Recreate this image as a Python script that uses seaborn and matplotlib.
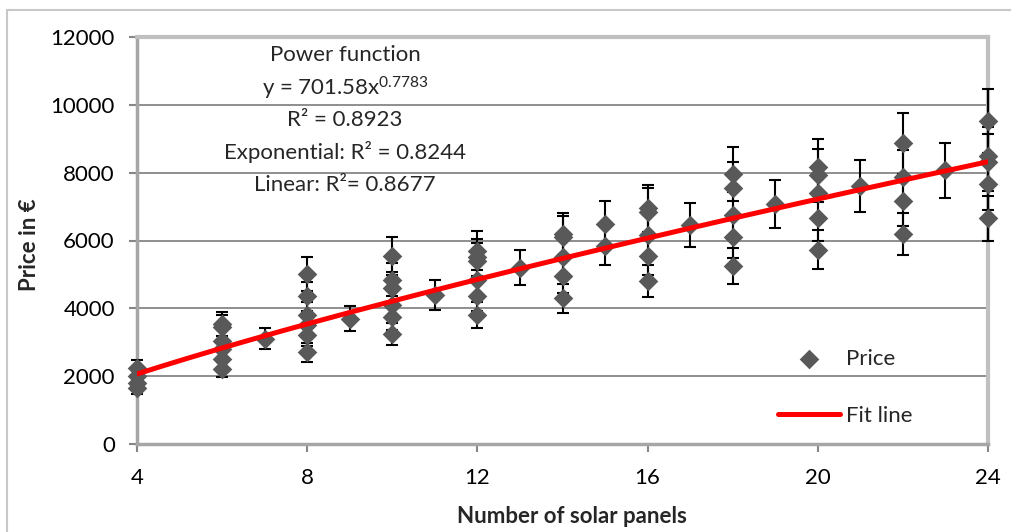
import numpy as np
import matplotlib
matplotlib.use("Agg")
import matplotlib.pyplot as plt
from matplotlib.patches import Rectangle
import seaborn as sns

# ---- data ----
panels = [4, 4, 4, 4,
          6, 6, 6, 6, 6, 6,
          7,
          8, 8, 8, 8, 8, 8,
          9,
          10, 10, 10, 10, 10, 10,
          11,
          12, 12, 12, 12, 12, 12,
          13,
          14, 14, 14, 14, 14,
          15, 15,
          16, 16, 16, 16, 16,
          17,
          18, 18, 18, 18, 18,
          19,
          20, 20, 20, 20, 20,
          21,
          22, 22, 22, 22,
          23,
          24, 24, 24, 24, 24]
price = [2250, 2000, 1800, 1650,
         3550, 3450, 3050, 2800, 2500, 2200,
         3100,
         5000, 4350, 3800, 3500, 3200, 2700,
         3700,
         5550, 4850, 4600, 4100, 3750, 3250,
         4400,
         5700, 5500, 5400, 4850, 4350, 3800,
         5200,
         6200, 6100, 5500, 4950, 4300,
         6500, 5850,
         6950, 6850, 6150, 5550, 4800,
         6450,
         7970, 7550, 6750, 6100, 5250,
         7080,
         8180, 7920, 7400, 6650, 5730,
         7610,
         8860, 7880, 7150, 6190,
         8075,
         9520, 8500, 8300, 7680, 6650]
error_pct = 0.10
power_coef = 701.58
power_exp = 0.7783
annotation_lines = ["Power function",
                    "y = 701.58x$^{0.7783}$",
                    "R² = 0.8923",
                    "Exponential: R² = 0.8244",
                    "Linear: R²= 0.8677"]
x_ticks = [4, 8, 12, 16, 20, 24]
y_ticks = [0, 2000, 4000, 6000, 8000, 10000, 12000]

# ---- style ----
sns.set_style("white")
plt.rcParams['font.family'] = ['Lato', 'DejaVu Sans']
plt.rcParams['mathtext.fontset'] = 'custom'
plt.rcParams['mathtext.rm'] = 'Lato'
plt.rcParams['mathtext.default'] = 'regular'

W, H = 1011, 532
fig = plt.figure(figsize=(W / 100, H / 100), dpi=100)
L, R, T, B = 137, 988, 37, 444
ax = fig.add_axes([L / W, 1 - B / H, (R - L) / W, (B - T) / H])

x = np.array(panels, dtype=float)
y = np.array(price, dtype=float)

eb = ax.errorbar(x, y, yerr=error_pct * y, fmt='none', ecolor='black',
                 elinewidth=1.5, capsize=4.3, capthick=1.5, zorder=2.6)
for art in eb.lines[1] + eb.lines[2]:
    art.set_clip_on(False)
sns.scatterplot(x=x, y=y, marker='D', s=100, color='#595959', linewidth=0,
                label='Price', ax=ax, zorder=3, clip_on=False)
xfit = np.linspace(min(panels), max(panels), 200)
yfit = power_coef * xfit ** power_exp
sns.lineplot(x=xfit, y=yfit, color='#ff0000', linewidth=3.6,
             label='Fit line', ax=ax, zorder=4)

ax.set_xlim(4, 24)
ax.set_ylim(0, 12000)
ax.set_xticks(x_ticks)
ax.set_yticks(y_ticks)
ax.set_xticklabels([str(t) for t in x_ticks])
ax.set_yticklabels([str(t) for t in y_ticks])
ax.tick_params(axis='both', labelsize=16, colors='#868686', labelcolor='black',
               length=6, width=1.5, direction='out')
ax.tick_params(axis='y', pad=10, left=True)
ax.tick_params(axis='x', pad=11, bottom=True)

ax.yaxis.grid(True, color='#868686', linewidth=1.3)
ax.xaxis.grid(False)
ax.set_axisbelow(True)
for side in ['top', 'right']:
    ax.spines[side].set_color('#c0c0c0')
    ax.spines[side].set_linewidth(3)
for side in ['left', 'bottom']:
    ax.spines[side].set_color('#a6a6a6')
    ax.spines[side].set_linewidth(2.5)

ax.set_xlabel('Number of solar panels', fontsize=16, fontweight='bold')
ax.set_ylabel('Price in €', fontsize=16, fontweight='bold')
ax.xaxis.set_label_coords((572 - L) / (R - L), -(506 - B) / (B - T))
ax.yaxis.set_label_coords(-(L - 40) / (R - L), (B - 245) / (B - T))

leg = ax.legend(loc='upper left', bbox_to_anchor=(778 / W, 1 - 349 / H),
                bbox_transform=fig.transFigure, frameon=False, fontsize=16,
                handlelength=2.8, handletextpad=0.25, labelspacing=1.67,
                borderpad=0, borderaxespad=0)

ys = [55, 88, 120, 152, 185]
for txt, yy in zip(annotation_lines, ys):
    fig.text(345 / W, 1 - yy / H, txt, ha='center', va='center', fontsize=16)

fig.patches.append(Rectangle((7 / W, -0.02), 1.05, 1 - 10 / H + 0.02,
                             transform=fig.transFigure, fill=False,
                             edgecolor='#c8c8c8', linewidth=1.5))

fig.savefig('out.png', dpi=100)
